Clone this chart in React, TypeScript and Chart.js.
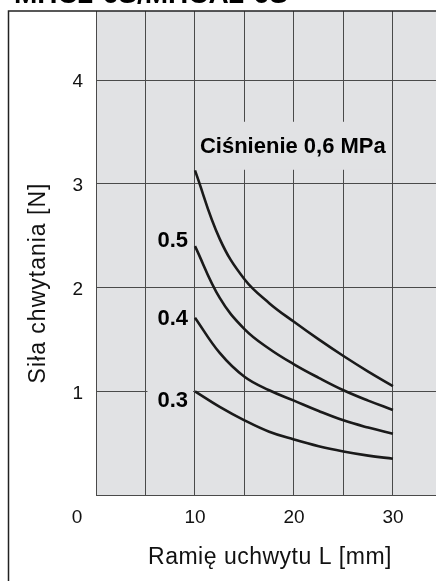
import React, { useEffect, useRef } from 'react';
import { Chart, registerables } from 'chart.js';
Chart.register(...registerables);

const HEADER = 'MHC2-6S/MHCA2-6S';
const X_TITLE = 'Ramię uchwytu L [mm]';
const Y_TITLE = 'Siła chwytania [N]';
const PRESSURE_TITLE = 'Ciśnienie 0,6 MPa';
const SERIES_LABELS = ['0.6', '0.5', '0.4', '0.3'];

const armLength = [10, 12.5, 15, 17.5, 20, 22.5, 25, 27.5, 30];
const force06 = [3.13, 2.47, 2.08, 1.85, 1.67, 1.5, 1.34, 1.19, 1.05];
const force05 = [2.4, 1.9, 1.6, 1.41, 1.26, 1.13, 1.01, 0.91, 0.82];
const force04 = [1.71, 1.37, 1.14, 1.01, 0.91, 0.81, 0.72, 0.65, 0.59];
const force03 = [1.0, 0.85, 0.72, 0.61, 0.535, 0.47, 0.42, 0.38, 0.35];

const X_GRID = [0, 5, 10, 15, 20, 25, 30];
const X_TICK_LABELS = [10, 20, 30];
const Y_GRID = [0, 1, 2, 3, 4];
const Y_TICK_LABELS = [1, 2, 3, 4];
const ORIGIN_LABEL = '0';
const SERIES_LABEL_Y = [2.39, 1.64, 0.85];
const PRESSURE_LABEL_AT = { x: 10.5, y: 3.3 };

const PLOT_BG = '#e1e2e4';
const GRID = '#4a4a4a';
const INK = '#1a1a1a';
const FONT = '"Liberation Sans", Arial, Helvetica, sans-serif';

const textPlugin = {
  id: 'customText',
  beforeDraw(chart: any) {
    const { ctx, chartArea: a, width, height } = chart;
    ctx.save();
    ctx.fillStyle = '#ffffff';
    ctx.fillRect(0, 0, width, height);
    ctx.fillStyle = PLOT_BG;
    ctx.fillRect(a.left, a.top, a.right - a.left, a.bottom - a.top);
    ctx.restore();
  },
  beforeDatasetsDraw(chart: any) {
    const { ctx } = chart;
    const x = chart.scales.x;
    const y = chart.scales.y;
    ctx.save();
    ctx.fillStyle = PLOT_BG;
    ctx.font = `bold 22px ${FONT}`;
    const tx = x.getPixelForValue(PRESSURE_LABEL_AT.x);
    const ty = y.getPixelForValue(PRESSURE_LABEL_AT.y);
    const tw = ctx.measureText(PRESSURE_TITLE).width;
    ctx.fillRect(tx - 3, ty - 31, tw + 6, 48);
    SERIES_LABEL_Y.forEach((v) => {
      const py = y.getPixelForValue(v);
      const l = x.getPixelForValue(5.2);
      ctx.fillRect(l, py - 22, x.getPixelForValue(9.8) - l, 30);
    });
    ctx.restore();
  },
  afterDraw(chart: any) {
    const { ctx, chartArea: a, width, height } = chart;
    const x = chart.scales.x;
    const y = chart.scales.y;
    ctx.save();
    ctx.fillStyle = '#000';
    ctx.font = `bold 28px ${FONT}`;
    ctx.textAlign = 'left';
    ctx.textBaseline = 'alphabetic';
    ctx.fillText(HEADER, 14, 3);

    ctx.strokeStyle = '#222';
    ctx.lineWidth = 1.5;
    ctx.beginPath();
    ctx.moveTo(8.5, height);
    ctx.lineTo(8.5, a.top);
    ctx.lineTo(width, a.top);
    ctx.stroke();

    ctx.font = `19px ${FONT}`;
    ctx.fillStyle = '#111';
    ctx.textAlign = 'center';
    ctx.textBaseline = 'middle';
    X_TICK_LABELS.forEach((v) => ctx.fillText(String(v), x.getPixelForValue(v), a.bottom + 23));
    ctx.fillText(ORIGIN_LABEL, 77, a.bottom + 23);
    ctx.textAlign = 'right';
    Y_TICK_LABELS.forEach((v) => ctx.fillText(String(v), 83, y.getPixelForValue(v) + 2));

    ctx.font = `23px ${FONT}`;
    ctx.textAlign = 'center';
    ctx.textBaseline = 'alphabetic';
    (ctx as any).letterSpacing = '0.5px';
    ctx.fillText(X_TITLE, 270, 564);
    ctx.save();
    ctx.translate(45, 283);
    ctx.rotate(-Math.PI / 2);
    (ctx as any).letterSpacing = '1px';
    ctx.fillText(Y_TITLE, 0, 0);
    ctx.restore();
    (ctx as any).letterSpacing = '0px';

    ctx.font = `bold 22px ${FONT}`;
    ctx.fillStyle = '#000';
    ctx.textAlign = 'left';
    ctx.fillText(PRESSURE_TITLE, x.getPixelForValue(PRESSURE_LABEL_AT.x), y.getPixelForValue(PRESSURE_LABEL_AT.y));
    ctx.textAlign = 'right';
    SERIES_LABEL_Y.forEach((v, i) => {
      ctx.fillText(SERIES_LABELS[i + 1], 188, y.getPixelForValue(v));
    });
    ctx.restore();
  },
};

export default function App() {
  const ref = useRef<HTMLCanvasElement>(null);
  useEffect(() => {
    const mk = (d: number[]) => armLength.map((v, i) => ({ x: v, y: d[i] }));
    const ds = (label: string, d: number[]) => ({
      label,
      data: mk(d),
      borderColor: INK,
      borderWidth: 2.6,
      pointRadius: 0,
      fill: false,
      tension: 0.4,
    });
    const chart = new Chart(ref.current!, {
      type: 'line',
      data: {
        datasets: [
          ds(SERIES_LABELS[0], force06),
          ds(SERIES_LABELS[1], force05),
          ds(SERIES_LABELS[2], force04),
          ds(SERIES_LABELS[3], force03),
        ],
      },
      options: {
        animation: false,
        responsive: false,
        maintainAspectRatio: false,
        layout: { padding: { left: 96, top: 11, right: 0, bottom: 86 } },
        plugins: { legend: { display: false }, tooltip: { enabled: false } },
        scales: {
          x: {
            type: 'linear',
            min: 0,
            max: 34.35,
            afterBuildTicks: (s: any) => {
              s.ticks = X_GRID.map((v) => ({ value: v }));
            },
            ticks: { display: false },
            grid: { color: GRID, lineWidth: 1, drawTicks: false, tickLength: 0 },
            border: { display: true, color: GRID, width: 1 },
          },
          y: {
            type: 'linear',
            min: 0,
            max: 4.667,
            afterBuildTicks: (s: any) => {
              s.ticks = Y_GRID.map((v) => ({ value: v }));
            },
            ticks: { display: false },
            grid: { color: GRID, lineWidth: 1, drawTicks: false, tickLength: 0 },
            border: { display: true, color: GRID, width: 1 },
          },
        },
      },
      plugins: [textPlugin],
    });
    return () => chart.destroy();
  }, []);
  return (
    <div style={{ position: 'fixed', left: 0, top: 0, width: 436, height: 581 }}>
      <canvas ref={ref} width={436} height={581} style={{ display: 'block' }} />
    </div>
  );
}
